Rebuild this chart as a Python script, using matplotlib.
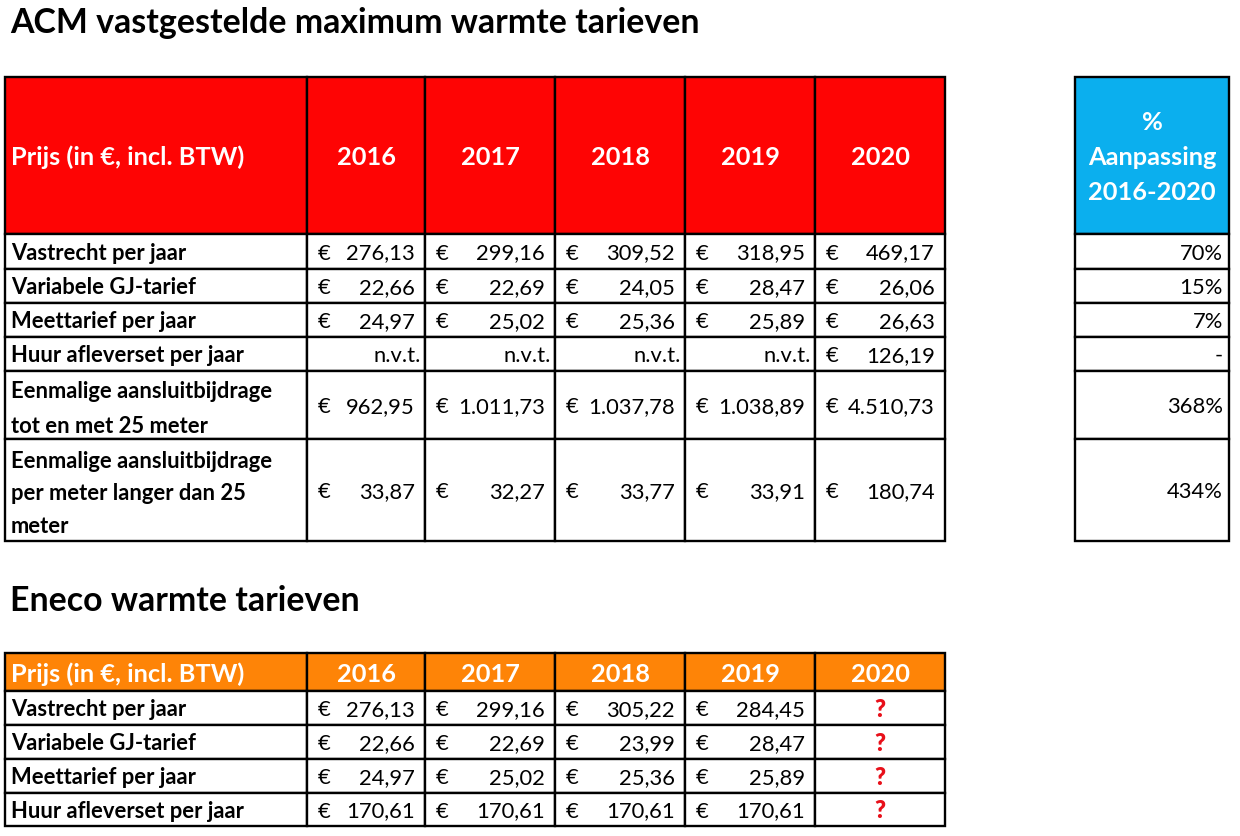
import matplotlib.pyplot as plt
from matplotlib.patches import Rectangle

plt.rcParams['font.family'] = ['Lato', 'DejaVu Sans']

# --- data ---
years = ['2016', '2017', '2018', '2019', '2020']
header_label = 'Prijs (in €, incl. BTW)'

acm_rows = ['Vastrecht per jaar', 'Variabele GJ-tarief', 'Meettarief per jaar',
            'Huur afleverset per jaar',
            'Eenmalige aansluitbijdrage\ntot en met 25 meter',
            'Eenmalige aansluitbijdrage\nper meter langer dan 25\nmeter']
acm_vastrecht = ['276,13', '299,16', '309,52', '318,95', '469,17']
acm_variabel = ['22,66', '22,69', '24,05', '28,47', '26,06']
acm_meet = ['24,97', '25,02', '25,36', '25,89', '26,63']
acm_huur = [None, None, None, None, '126,19']
acm_aansluit = ['962,95', '1.011,73', '1.037,78', '1.038,89', '4.510,73']
acm_per_meter = ['33,87', '32,27', '33,77', '33,91', '180,74']
acm_values = [acm_vastrecht, acm_variabel, acm_meet, acm_huur, acm_aansluit, acm_per_meter]
pct_header = '%\nAanpassing\n2016-2020'
pct_change = ['70%', '15%', '7%', '-', '368%', '434%']

eneco_rows = ['Vastrecht per jaar', 'Variabele GJ-tarief', 'Meettarief per jaar',
              'Huur afleverset per jaar']
eneco_vastrecht = ['276,13', '299,16', '305,22', '284,45', None]
eneco_variabel = ['22,66', '22,69', '23,99', '28,47', None]
eneco_meet = ['24,97', '25,02', '25,36', '25,89', None]
eneco_huur = ['170,61', '170,61', '170,61', '170,61', None]
eneco_values = [eneco_vastrecht, eneco_variabel, eneco_meet, eneco_huur]

# --- layout (pixels) ---
col_x = [5, 307, 425, 555, 685, 815, 945]
acm_y = [77, 234, 269, 303, 337, 371, 439, 541]
eneco_y = [653, 691, 725, 759, 793, 826]
pct_x = [1075, 1229]

RED = '#FE0404'
ORANGE = '#FE8407'
BLUE = '#0BAFEE'
LW = 1.7
FS = 15.8
HFS = 18.3
DY = 2  # small downward nudge so text sits like in the sheet

fig = plt.figure(figsize=(12.4, 8.36), dpi=100)
ax = fig.add_axes([0, 0, 1, 1])
ax.set_xlim(0, 1240)
ax.set_ylim(836, 0)
ax.axis('off')


def cell(x0, x1, y0, y1, color='white'):
    ax.add_patch(Rectangle((x0, y0), x1 - x0, y1 - y0, facecolor=color,
                           edgecolor='black', linewidth=LW))


def money(x0, x1, yc, val):
    ax.text(x0 + 11, yc, '€', ha='left', va='center', fontsize=FS)
    ax.text(x1 - 10, yc, val, ha='right', va='center', fontsize=FS)


# titles
ax.text(10, 23, 'ACM vastgestelde maximum warmte tarieven', fontsize=24.4,
        fontweight='bold', va='center', ha='left')
ax.text(10, 601, 'Eneco warmte tarieven', fontsize=24.4,
        fontweight='bold', va='center', ha='left')

# ACM table
for j in range(len(col_x) - 1):
    cell(col_x[j], col_x[j + 1], acm_y[0], acm_y[1], RED)
hy = (acm_y[0] + acm_y[1]) / 2 + DY
ax.text(col_x[0] + 6, hy, header_label, color='white', fontsize=HFS,
        fontweight='bold', va='center')
for j, yr in enumerate(years):
    ax.text((col_x[j + 1] + col_x[j + 2]) / 2, hy, yr, color='white',
            fontsize=HFS, fontweight='bold', ha='center', va='center')

for i, lab in enumerate(acm_rows):
    y0, y1 = acm_y[i + 1], acm_y[i + 2]
    yc = (y0 + y1) / 2 + DY
    cell(col_x[0], col_x[1], y0, y1)
    ls = 1.7 if lab.count('\n') > 1 else 1.78
    ax.text(col_x[0] + 6, yc + 2 * (lab.count('\n') > 0), lab, fontsize=FS,
            fontweight='bold', va='center', linespacing=ls)
    for j in range(5):
        x0, x1 = col_x[j + 1], col_x[j + 2]
        cell(x0, x1, y0, y1)
        v = acm_values[i][j]
        if v is None:
            ax.text(x1 - 4, yc, 'n.v.t.', ha='right', va='center', fontsize=FS)
        else:
            money(x0, x1, yc, v)

# percentage column
cell(pct_x[0], pct_x[1], acm_y[0], acm_y[1], BLUE)
ax.text((pct_x[0] + pct_x[1]) / 2, hy, pct_header, color='white', fontsize=HFS,
        fontweight='bold', ha='center', va='center', linespacing=1.62)
for i, p in enumerate(pct_change):
    y0, y1 = acm_y[i + 1], acm_y[i + 2]
    cell(pct_x[0], pct_x[1], y0, y1)
    ax.text(pct_x[1] - 6, (y0 + y1) / 2 + DY, p, ha='right', va='center',
            fontsize=FS)

# Eneco table
for j in range(len(col_x) - 1):
    cell(col_x[j], col_x[j + 1], eneco_y[0], eneco_y[1], ORANGE)
hy = (eneco_y[0] + eneco_y[1]) / 2 + DY
ax.text(col_x[0] + 6, hy, header_label, color='white', fontsize=HFS,
        fontweight='bold', va='center')
for j, yr in enumerate(years):
    ax.text((col_x[j + 1] + col_x[j + 2]) / 2, hy, yr, color='white',
            fontsize=HFS, fontweight='bold', ha='center', va='center')

for i, lab in enumerate(eneco_rows):
    y0, y1 = eneco_y[i + 1], eneco_y[i + 2]
    yc = (y0 + y1) / 2 + DY
    cell(col_x[0], col_x[1], y0, y1)
    ax.text(col_x[0] + 6, yc, lab, fontsize=FS, fontweight='bold', va='center')
    for j in range(5):
        x0, x1 = col_x[j + 1], col_x[j + 2]
        cell(x0, x1, y0, y1)
        v = eneco_values[i][j]
        if v is None:
            ax.text((x0 + x1) / 2, yc, '?', ha='center', va='center',
                    fontsize=17, fontweight='heavy', color='#E8101A')
        else:
            money(x0, x1, yc, v)

fig.savefig('out.png', dpi=100)
